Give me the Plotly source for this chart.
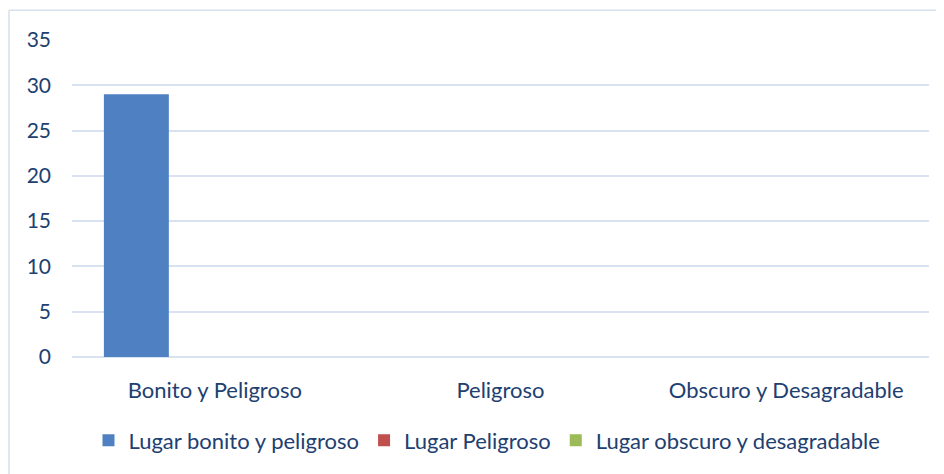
import plotly.graph_objects as go

categories = ["Bonito y Peligroso", "Peligroso", "Obscuro y Desagradable"]
series_names = ["Lugar bonito y peligroso", "Lugar Peligroso", "Lugar obscuro y desagradable"]
bonito_peligroso = [29, 0, 0]
peligroso = [0, 0, 0]
obscuro_desagradable = [0, 0, 0]
y_ticks = [0, 5, 10, 15, 20, 25, 30, 35]

colors = ["#4f81c2", "#c0504d", "#9bbb59"]
text_color = "#21406F"
font_family = "Lato, Carlito, Calibri, sans-serif"
fs = 22

fig = go.Figure()
for name, vals, col in zip(series_names, [bonito_peligroso, peligroso, obscuro_desagradable], colors):
    fig.add_trace(go.Bar(
        x=categories, y=vals, name=name,
        marker=dict(color=col, line=dict(width=0)),
    ))

# page has an 8px body margin, so the figure is drawn at (8, 8)
W, H = 936, 466
l, r, t, b = 64, 15, 32, 115
pw = W - l - r   # 857
ph = H - t - b   # 319
ox, oy = 8 + l, 8 + t + ph   # page position of plot origin (x left, y bottom)

def px(x):
    return (x - ox) / pw

def py(y):
    return (oy - y) / ph

border = "#d6dfec"

fig.update_layout(
    width=W, height=H,
    margin=dict(l=l, r=r, t=t, b=b),
    paper_bgcolor="white", plot_bgcolor="white",
    barmode="group", bargap=0.176, bargroupgap=0.172,
    font=dict(family=font_family, size=fs, color=text_color),
    showlegend=True,
    legend=dict(orientation="h", x=px(487), xanchor="center", y=py(443), yanchor="middle",
                font=dict(size=fs, color=text_color), itemwidth=30, traceorder="normal",
                tracegroupgap=0),
    xaxis=dict(showgrid=False, showline=False, zeroline=False, ticks="",
               ticklabelstandoff=18, tickfont=dict(size=fs, color=text_color)),
    yaxis=dict(range=[0, 35], tickvals=y_ticks, showgrid=True, gridcolor="#d9e2f1", gridwidth=2,
               zeroline=True, zerolinecolor="#d9e2f1", zerolinewidth=2, showline=False,
               ticks="", ticklabelstandoff=20, tickfont=dict(size=21, color=text_color)),
    shapes=[
        dict(type="line", xref="paper", yref="paper",
             x0=px(9), x1=px(9), y0=py(10), y1=py(490),
             line=dict(color=border, width=1.5)),
        dict(type="line", xref="paper", yref="paper",
             x0=px(9), x1=px(960), y0=py(10), y1=py(10),
             line=dict(color=border, width=1.5)),
    ],
)

fig.write_html("out.html")
